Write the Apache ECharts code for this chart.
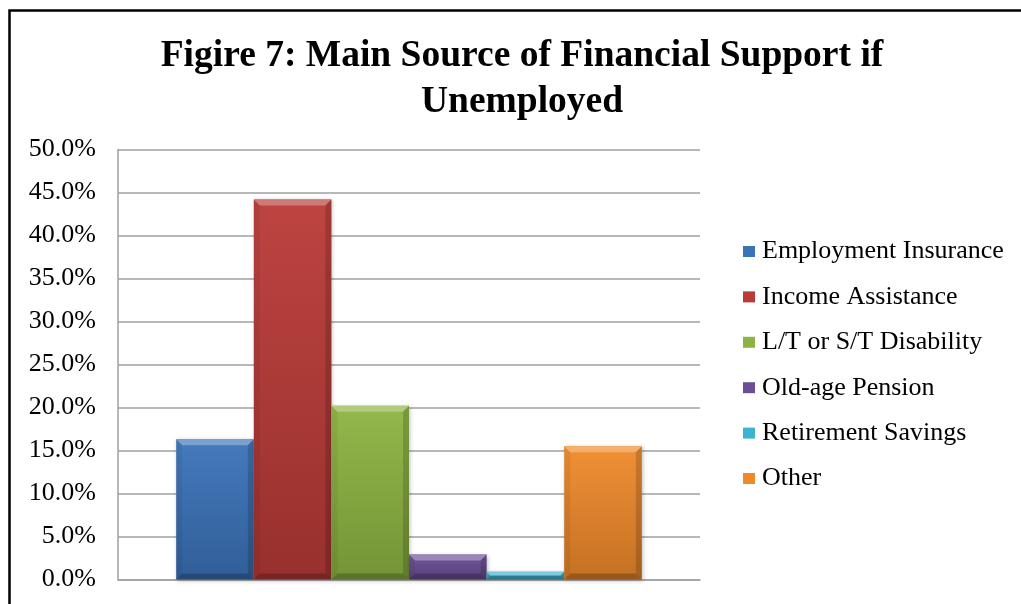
<!DOCTYPE html>
<html>
<head>
<meta charset="utf-8">
<script src="https://cdn.jsdelivr.net/npm/echarts@6/dist/echarts.min.js"></script>
<style>
  html, body { margin: 0; padding: 0; background: #ffffff; }
  #chart { width: 1021px; height: 604px; }
</style>
</head>
<body>
<div id="chart"></div>
<script>
// Survey answers: main source of financial support if unemployed (share of respondents, %)
const titleLines = ['Figire 7: Main Source of Financial Support if', 'Unemployed'];
const sources = ['Employment Insurance', 'Income Assistance', 'L/T or S/T Disability', 'Old-age Pension', 'Retirement Savings', 'Other'];
const shares = [16.3, 44.2, 20.2, 2.9, 0.9, 15.5];
const palette = ['#3b73b9', '#b93a37', '#8db442', '#6b4e95', '#3cb3d0', '#ef8a2b'];
const yMin = 0, yMax = 50, yStep = 5;

const SERIF = '"Liberation Serif", "Times New Roman", "DejaVu Serif", serif';

function shade(hex, f) {
  const n = parseInt(hex.slice(1), 16);
  const ch = [(n >> 16) & 255, (n >> 8) & 255, n & 255].map(c => {
    const v = f >= 0 ? c + (255 - c) * f : c * (1 + f);
    return Math.max(0, Math.min(255, Math.round(v)));
  });
  return 'rgb(' + ch.join(',') + ')';
}

// Bevelled column: flat body with a light top edge and darker sides/bottom
function bevelBar(i) {
  return function (params, api) {
    const topPt = api.coord([api.value(0), api.value(1)]);
    const basePt = api.coord([api.value(0), 0]);
    const band = api.size([1, 0])[0];
    const groupW = band * 0.8;
    const bw = groupW / sources.length;
    const x = topPt[0] - groupW / 2 + i * bw;
    const y = topPt[1];
    const w = bw;
    const h = basePt[1] - topPt[1];
    const b = Math.min(6, h * 0.45);
    const c = palette[i];
    return {
      type: 'group',
      children: [
        {
          type: 'rect',
          shape: { x: x, y: y, width: w, height: h },
          style: {
            fill: new echarts.graphic.LinearGradient(0, 0, 0, 1, [
              { offset: 0, color: shade(c, 0.05) },
              { offset: 1, color: shade(c, -0.18) }
            ]),
            shadowBlur: 4, shadowColor: 'rgba(0,0,0,0.25)', shadowOffsetX: 1, shadowOffsetY: 1
          }
        },
        { type: 'polygon', shape: { points: [[x, y], [x + w, y], [x + w - b, y + b], [x + b, y + b]] },
          style: { fill: shade(c, 0.32) } },
        { type: 'polygon', shape: { points: [[x, y], [x + b, y + b], [x + b, y + h - b], [x, y + h]] },
          style: { fill: 'rgba(0,0,0,0.06)' } },
        { type: 'polygon', shape: { points: [[x + w, y], [x + w - b, y + b], [x + w - b, y + h - b], [x + w, y + h]] },
          style: { fill: 'rgba(0,0,0,0.16)' } },
        { type: 'polygon', shape: { points: [[x, y + h], [x + b, y + h - b], [x + w - b, y + h - b], [x + w, y + h]] },
          style: { fill: 'rgba(0,0,0,0.22)' } }
      ]
    };
  };
}

const chart = echarts.init(document.getElementById('chart'), null, { renderer: 'canvas' });

chart.setOption({
  animation: false,
  backgroundColor: '#ffffff',
  graphic: [
    { type: 'rect', silent: true, z: 100,
      shape: { x: 9.5, y: 10.5, width: 1200, height: 800 },
      style: { fill: 'none', stroke: '#000000', lineWidth: 2.5 } },
    { type: 'text', x: 522, y: 56.5,
      style: { text: titleLines[0], fill: '#000', font: 'bold 37.5px ' + SERIF, textAlign: 'center', textVerticalAlign: 'middle' } },
    { type: 'text', x: 522, y: 102,
      style: { text: titleLines[1], fill: '#000', font: 'bold 37.5px ' + SERIF, textAlign: 'center', textVerticalAlign: 'middle' } }
  ],
  grid: { left: 118, right: 321, top: 149.5, bottom: 24.5, containLabel: false },
  legend: {
    orient: 'vertical',
    left: 738,
    top: 232.5,
    itemWidth: 12,
    itemHeight: 11,
    itemGap: 17.4,
    icon: 'rect',
    textStyle: { fontFamily: SERIF, fontSize: 26, color: '#000', lineHeight: 28, padding: [0, 0, 0, 2] },
    data: sources
  },
  xAxis: {
    type: 'category',
    data: [''],
    axisLine: { show: true, lineStyle: { color: '#a0a0a0', width: 1.5 } },
    axisTick: { show: false },
    axisLabel: { show: false },
    splitLine: { show: false }
  },
  yAxis: {
    type: 'value',
    min: yMin,
    max: yMax,
    interval: yStep,
    axisLine: { show: true, lineStyle: { color: '#a0a0a0', width: 1.5 } },
    axisTick: { show: false },
    axisLabel: {
      margin: 22,
      fontFamily: SERIF,
      fontSize: 26,
      color: '#000',
      formatter: v => v.toFixed(1) + '%'
    },
    splitLine: { show: true, lineStyle: { color: '#a0a0a0', width: 1.5 } }
  },
  series: sources.map((name, i) => ({
    name: name,
    type: 'custom',
    itemStyle: { color: palette[i] },
    encode: { x: 0, y: 1 },
    data: [[0, shares[i]]],
    renderItem: bevelBar(i)
  }))
});
</script>
</body>
</html>
